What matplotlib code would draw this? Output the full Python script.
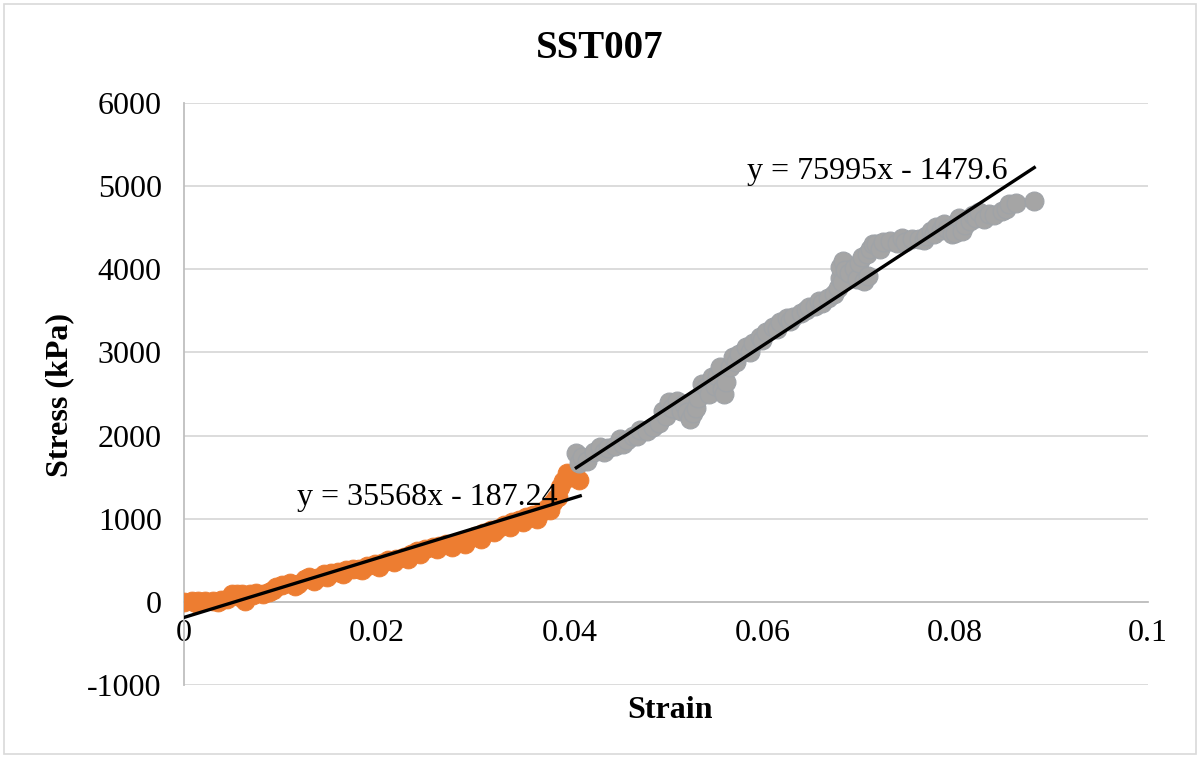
import matplotlib
matplotlib.use("Agg")
import matplotlib.pyplot as plt
from matplotlib.patches import Rectangle
import numpy as np

plt.rcParams['font.family'] = ['Liberation Serif', 'DejaVu Serif']

title = "SST007"
x_label = "Strain"
y_label = "Stress (kPa)"

# Series 1 (orange)
strain_1 = [0.0000, 0.0008, 0.0012, 0.0015, 0.0022, 0.0030, 0.0035, 0.0038, 0.0045, 0.0050,
            0.0055, 0.0058, 0.0060, 0.0063, 0.0068, 0.0072, 0.0075, 0.0082, 0.0088, 0.0092,
            0.0095, 0.0102, 0.0110, 0.0115, 0.0118, 0.0125, 0.0130, 0.0135, 0.0138, 0.0145,
            0.0148, 0.0152, 0.0160, 0.0165, 0.0168, 0.0175, 0.0182, 0.0185, 0.0190, 0.0198,
            0.0202, 0.0205, 0.0212, 0.0218, 0.0220, 0.0228, 0.0232, 0.0235, 0.0242, 0.0245,
            0.0250, 0.0258, 0.0262, 0.0265, 0.0272, 0.0278, 0.0280, 0.0288, 0.0292, 0.0295,
            0.0302, 0.0308, 0.0310, 0.0318, 0.0322, 0.0325, 0.0332, 0.0338, 0.0340, 0.0348,
            0.0352, 0.0355, 0.0362, 0.0366, 0.0370, 0.0377, 0.0380, 0.0383, 0.0386, 0.0388,
            0.0390, 0.0393, 0.0397, 0.0403, 0.0410]
stress_1 = [0, 5, -10, 10, 5, 15, 0, 20, 30, 90,
            100, 60, 95, 10, 100, 80, 110, 100, 120, 140,
            180, 200, 230, 190, 210, 280, 300, 250, 290, 330,
            300, 350, 360, 340, 380, 390, 400, 380, 430, 450,
            420, 470, 500, 480, 520, 540, 520, 570, 610, 580,
            640, 660, 630, 670, 690, 660, 700, 730, 700, 760,
            790, 760, 830, 860, 840, 880, 920, 900, 960, 990,
            960, 1020, 1050, 1000, 1080, 1130, 1100, 1200, 1250, 1260,
            1380, 1450, 1550, 1500, 1465]

# Series 2 (gray)
strain_2 = [0.0407, 0.0410, 0.0413, 0.0418, 0.0425, 0.0432, 0.0436, 0.0440, 0.0447, 0.0452,
            0.0455, 0.0460, 0.0466, 0.0470, 0.0473, 0.0480, 0.0487, 0.0493, 0.0497, 0.0500,
            0.0503, 0.0506, 0.0511, 0.0516, 0.0519, 0.0522, 0.0525, 0.0528, 0.0531, 0.0533,
            0.0537, 0.0542, 0.0545, 0.0548, 0.0551, 0.0553, 0.0556, 0.0558, 0.0560, 0.0562,
            0.0566, 0.0570, 0.0573, 0.0576, 0.0583, 0.0587, 0.0590, 0.0597, 0.0600, 0.0604,
            0.0611, 0.0615, 0.0618, 0.0625, 0.0629, 0.0632, 0.0640, 0.0645, 0.0648, 0.0655,
            0.0659, 0.0662, 0.0668, 0.0674, 0.0678, 0.0680, 0.0681, 0.0683, 0.0684, 0.0686,
            0.0690, 0.0695, 0.0698, 0.0700, 0.0703, 0.0705, 0.0708, 0.0710, 0.0712, 0.0715,
            0.0718, 0.0722, 0.0725, 0.0732, 0.0740, 0.0745, 0.0748, 0.0755, 0.0762, 0.0768,
            0.0770, 0.0775, 0.0778, 0.0780, 0.0785, 0.0788, 0.0792, 0.0797, 0.0800, 0.0804,
            0.0807, 0.0810, 0.0815, 0.0818, 0.0822, 0.0825, 0.0830, 0.0835, 0.0840, 0.0849,
            0.0853, 0.0856, 0.0863, 0.0882]
stress_2 = [1790, 1670, 1745, 1700, 1800, 1865, 1800, 1850, 1870, 1960,
            1900, 1945, 2000, 1990, 2070, 2060, 2100, 2150, 2300, 2230,
            2400, 2330, 2420, 2300, 2380, 2280, 2200, 2270, 2330, 2450,
            2620, 2580, 2500, 2700, 2600, 2720, 2830, 2560, 2500, 2640,
            2830, 2940, 2880, 2980, 3060, 3010, 3110, 3190, 3150, 3250,
            3310, 3280, 3360, 3420, 3380, 3430, 3480, 3510, 3550, 3560,
            3620, 3600, 3650, 3700, 3780, 3900, 4030, 3850, 4100, 3990,
            3950, 4010, 3880, 4080, 4150, 3860, 4180, 3920, 4240, 4300,
            4300, 4250, 4330, 4340, 4320, 4380, 4330, 4360, 4370, 4350,
            4400, 4460, 4420, 4510, 4470, 4540, 4480, 4420, 4440, 4620,
            4460, 4530, 4580, 4650, 4620, 4690, 4600, 4660, 4650, 4700,
            4730, 4780, 4800, 4820]

# Trendline coefficients (slope, intercept) and x-extent
trend_1 = (35568, -187.24)
trend_1_range = (0.0, 0.0411)
trend_2 = (75995, -1479.6)
trend_2_range = (0.0407, 0.0882)
eq_1 = "y = 35568x - 187.24"
eq_2 = "y = 75995x - 1479.6"

x_ticks = [0, 0.02, 0.04, 0.06, 0.08, 0.1]
x_tick_labels = ["0", "0.02", "0.04", "0.06", "0.08", "0.1"]
y_ticks = [-1000, 0, 1000, 2000, 3000, 4000, 5000, 6000]
y_tick_labels = ["-1000", "0", "1000", "2000", "3000", "4000", "5000", "6000"]

W, H, DPI = 1200, 758, 100
fig = plt.figure(figsize=(W / DPI, H / DPI), dpi=DPI)
ax = fig.add_axes([184 / W, 1 - 685 / H, (1148 - 184) / W, (685 - 103) / H])

ax.set_xlim(0, 0.1)
ax.set_ylim(-1000, 6000)

for yt in y_ticks:
    ax.axhline(yt, color='#D9D9D9', lw=1.3, zorder=0)

ax.scatter(strain_1, stress_1, s=185, color='#ED7D31', edgecolors='#ED7D31', linewidths=0.6, zorder=3)
ax.scatter(strain_2, stress_2, s=185, color='#A5A5A5', edgecolors='#9FA3A8', linewidths=0.8, zorder=3)

for (m, b), (x0, x1) in [(trend_1, trend_1_range), (trend_2, trend_2_range)]:
    xs = np.array([x0, x1])
    ax.plot(xs, m * xs + b, color='black', lw=2.4, zorder=4)

ax.text(0.0252, 1253, eq_1, fontsize=23, ha='center', va='center', zorder=5)
ax.text(0.0719, 5180, eq_2, fontsize=23, ha='center', va='center', zorder=5)

for s in ['top', 'right']:
    ax.spines[s].set_visible(False)
ax.spines['left'].set_color('#BFBFBF')
ax.spines['left'].set_linewidth(1.3)
ax.spines['bottom'].set_position(('data', 0))
ax.spines['bottom'].set_color('#BFBFBF')
ax.spines['bottom'].set_linewidth(1.3)

ax.set_xticks(x_ticks)
ax.set_xticklabels(x_tick_labels)
ax.set_yticks(y_ticks)
ax.set_yticklabels(y_tick_labels)
ax.tick_params(axis='both', length=0, labelsize=23)
ax.tick_params(axis='x', pad=12)
ax.tick_params(axis='y', pad=16)

fig.text(0.5, 1 - 48 / H, title, fontsize=28, fontweight='bold', ha='center', va='center')
fig.text(670 / W, 1 - 710 / H, x_label, fontsize=23, fontweight='bold', ha='center', va='center')
fig.text(60 / W, 1 - 395 / H, y_label, fontsize=23, fontweight='bold', ha='center', va='center',
         rotation=90)

fig.patches.append(Rectangle((4 / W, 4 / H), 1 - 8 / W, 1 - 8 / H, transform=fig.transFigure,
                             fill=False, edgecolor='#D9D9D9', lw=1.2))

fig.savefig("out.png", dpi=DPI)
